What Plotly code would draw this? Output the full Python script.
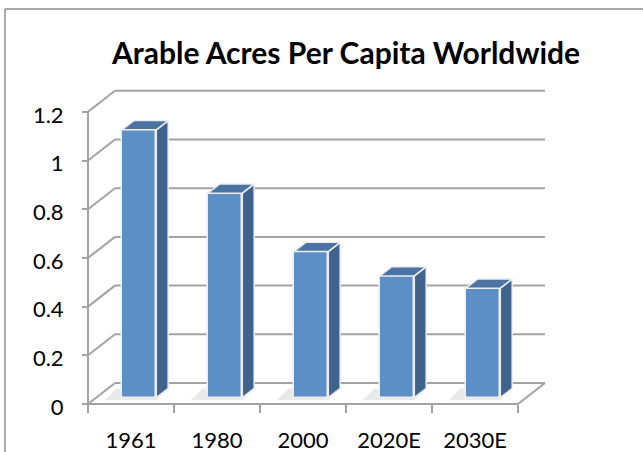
import plotly.graph_objects as go

# ---- data ----
categories = ["1961", "1980", "2000", "2020E", "2030E"]
values = [1.1, 0.84, 0.6, 0.5, 0.45]
y_ticks = [0, 0.2, 0.4, 0.6, 0.8, 1.0, 1.2]
y_tick_labels = ["0", "0.2", "0.4", "0.6", "0.8", "1", "1.2"]
title_text = "Arable Acres Per Capita Worldwide"

# ---- geometry / style ----
W, H = 643, 452
PX_U, PX_V = 86.0, 243.5          # pixels per category / per value unit
X0, Y0 = 88, 404                  # pixel position of origin (front plane)
DX, DY = 27 / PX_U, 21 / PX_V     # full-depth offset in data units
D0, D1 = 0.30, 0.74               # bar depth span (fraction of depth)
BW = 0.40                         # bar width in category units
FONT = "Lato"
GRID = "#a3a3a3"
FRONT, SIDE, TOP, EDGE = "#5b8fc6", "#40638e", "#4b73a4", "#eeeeee"

n = len(categories)
fig = go.Figure()
shapes = []

def seg(x0, y0, x1, y1, color=GRID, width=2):
    shapes.append(dict(type="line", xref="x", yref="y", x0=x0, y0=y0, x1=x1, y1=y1,
                       line=dict(color=color, width=width), layer="below"))

# back wall gridlines + side wall diagonals
for t in y_ticks:
    seg(0, t, DX, t + DY)
    seg(DX, t + DY, n + DX, t + DY)
# front vertical axis
seg(0, 0, 0, max(y_ticks))
# floor
seg(0, 0, n, 0)
seg(n, 0, n + DX, DY)

o0, o1 = DY * D0, DY * D1
for i, v in enumerate(values):
    xc = i + 0.5
    xl0, xr0 = xc - BW / 2 + DX * D0, xc + BW / 2 + DX * D0
    xl1, xr1 = xl0 + DX * (D1 - D0), xr0 + DX * (D1 - D0)
    # soft floor shadow
    shapes.append(dict(type="path", xref="x", yref="y", layer="below",
                       path=f"M{xl0-0.2},{o0-0.01} L{xr0},{o0-0.01} L{xr1},{o1} L{xl1-0.2},{o1} Z",
                       fillcolor="rgba(120,120,120,0.16)", line=dict(width=0)))
    # side face
    fig.add_trace(go.Scatter(x=[xr0, xr1, xr1, xr0, xr0], y=[o0, o1, v + o1, v + o0, o0],
                             fill="toself", fillcolor=SIDE, mode="lines",
                             line=dict(color=EDGE, width=1.5), hoverinfo="skip", showlegend=False))
    # top face
    fig.add_trace(go.Scatter(x=[xl0, xr0, xr1, xl1, xl0], y=[v + o0, v + o0, v + o1, v + o1, v + o0],
                             fill="toself", fillcolor=TOP, mode="lines",
                             line=dict(color=EDGE, width=1.5), hoverinfo="skip", showlegend=False))

# front faces as real bars
fig.add_trace(go.Bar(x=[i + 0.5 + DX * D0 for i in range(n)], y=values, base=o0, width=BW,
                     marker=dict(color=FRONT, line=dict(color=EDGE, width=1.5)),
                     hovertext=categories, showlegend=False))

# frame
shapes.append(dict(type="line", xref="paper", yref="paper", x0=5 / W, y0=1 - 9 / H, x1=1, y1=1 - 9 / H,
                   line=dict(color="#8c8c8c", width=1.5)))
shapes.append(dict(type="line", xref="paper", yref="paper", x0=5 / W, y0=0, x1=5 / W, y1=1 - 9 / H,
                   line=dict(color="#8c8c8c", width=1.5)))

fig.update_layout(
    width=W, height=H, margin=dict(l=0, r=0, t=0, b=0, autoexpand=False),
    paper_bgcolor="white", plot_bgcolor="white", shapes=shapes, bargap=0,
    title=dict(text=title_text, x=346 / W, y=1 - 53 / H, xanchor="center", yanchor="middle",
               font=dict(family=FONT, size=30, color="black", weight="bold")),
    xaxis=dict(range=[-X0 / PX_U, (W - X0) / PX_U], anchor="free", position=(H - Y0) / H,
               automargin=False,
               tickvals=[i + 0.5 for i in range(n)], ticktext=categories,
               ticks="", showgrid=False, zeroline=False, showline=False,
               ticklabelstandoff=21,
               tickfont=dict(family=FONT, size=22, color="black"),
               minor=dict(tickvals=list(range(n + 1)), ticks="outside", ticklen=8,
                          tickcolor=GRID, tickwidth=2, showgrid=False)),
    yaxis=dict(range=[-(H - Y0) / PX_V, Y0 / PX_V], anchor="free", position=X0 / W,
               automargin=False,
               tickvals=y_ticks, ticktext=y_tick_labels, ticks="outside", ticklen=6,
               tickcolor=GRID, tickwidth=2, showgrid=False, zeroline=False, showline=False,
               ticklabelstandoff=14, ticklabelshift=3,
               tickfont=dict(family=FONT, size=22, color="black")),
)

fig.write_html("out.html")
